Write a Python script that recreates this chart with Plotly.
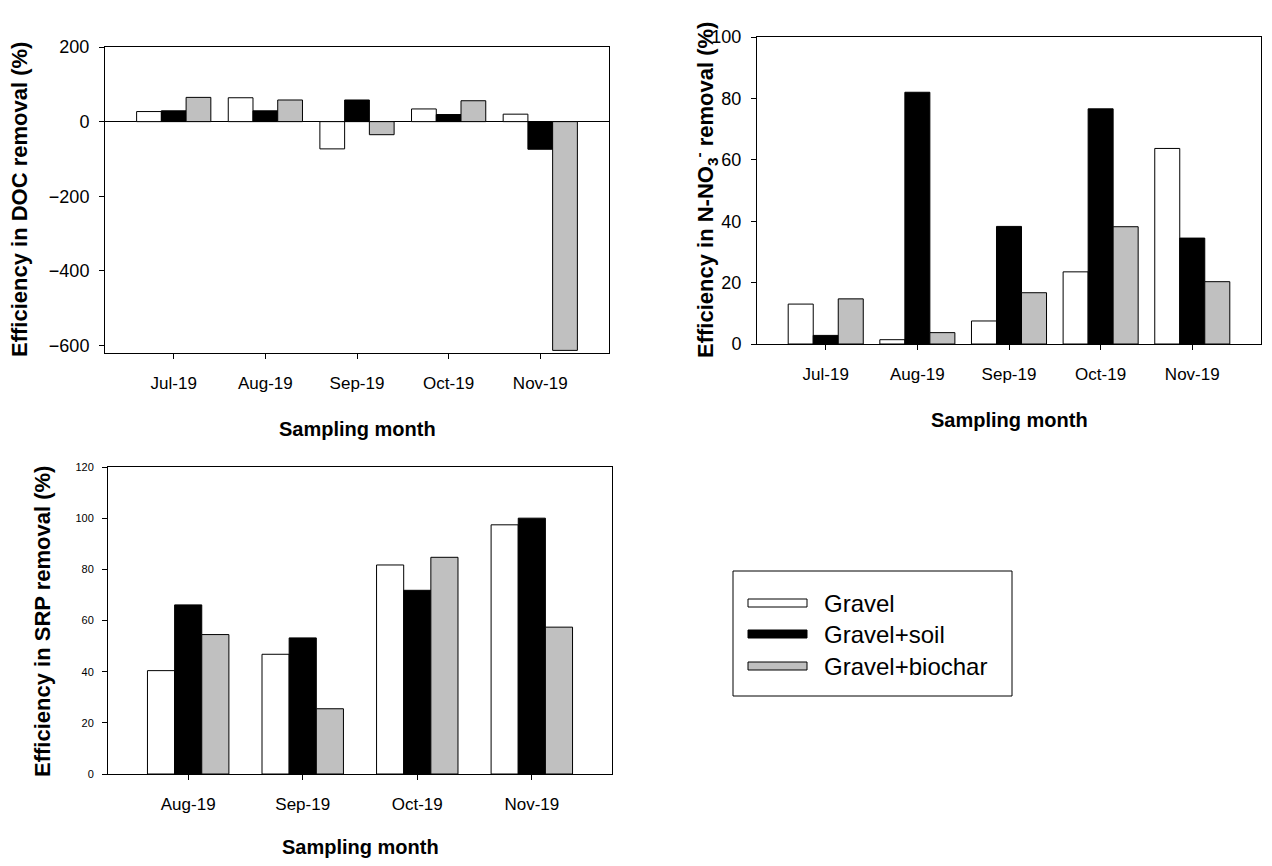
import plotly.graph_objects as go

months_top = ["Jul-19", "Aug-19", "Sep-19", "Oct-19", "Nov-19"]
months_srp = ["Aug-19", "Sep-19", "Oct-19", "Nov-19"]
series_names = ["Gravel", "Gravel+soil", "Gravel+biochar"]
series_colors = ["#ffffff", "#000000", "#c0c0c0"]

doc_gravel = [27, 64, -73, 34, 20]
doc_soil = [29, 29, 58, 19, -74]
doc_biochar = [65, 58, -35, 56, -613]

no3_gravel = [13.0, 1.4, 7.5, 23.5, 63.7]
no3_soil = [2.8, 82.0, 38.3, 76.6, 34.5]
no3_biochar = [14.7, 3.7, 16.7, 38.2, 20.3]

srp_gravel = [40.4, 46.8, 81.7, 97.4]
srp_soil = [66.1, 53.2, 71.8, 100.0]
srp_biochar = [54.5, 25.5, 84.7, 57.4]

# page is offset by the default 8px body margin
OFF = 8
W, H = 1272 - 2 * OFF, 866 - 2 * OFF
FONT = "Liberation Sans, Arial, sans-serif"

def px(x):
    return (x - OFF) / W

def py(y):
    return 1 - (y - OFF) / H

fig = go.Figure()

panels = [
    ("x", "y", months_top, [doc_gravel, doc_soil, doc_biochar], 0.27),
    ("x2", "y2", months_top, [no3_gravel, no3_soil, no3_biochar], 0.273),
    ("x3", "y3", months_srp, [srp_gravel, srp_soil, srp_biochar], 0.237),
]

for xa, ya, cats, vals, w in panels:
    for i, (v, name, col) in enumerate(zip(vals, series_names, series_colors)):
        fig.add_trace(go.Bar(
            x=cats, y=v, name=name, xaxis=xa, yaxis=ya,
            marker=dict(color=col, line=dict(color="#000000", width=1)),
            width=w, offset=(i - 1.5) * w, showlegend=False,
        ))

axis_common = dict(showline=True, mirror=True, linecolor="#000000", linewidth=1,
                   showgrid=False, ticks="outside", ticklen=5, tickcolor="#000000",
                   tickwidth=1, automargin=False)

fig.update_layout(
    width=W, height=H, margin=dict(l=0, r=0, t=0, b=0),
    paper_bgcolor="white", plot_bgcolor="white",
    font=dict(family=FONT, color="#000000"),
    barmode="overlay",
    xaxis=dict(domain=[px(105), px(609)], anchor="y", type="category",
               range=[-0.75, 4.75], tickfont=dict(size=17), ticklabelstandoff=10,
               **axis_common),
    yaxis=dict(domain=[py(353), py(47)], anchor="x", range=[-620, 200],
               tickvals=[-600, -400, -200, 0, 200], tickfont=dict(size=18),
               ticklabelstandoff=6, zeroline=True, zerolinecolor="#000000",
               zerolinewidth=1, **axis_common),
    xaxis2=dict(domain=[px(757), px(1261)], anchor="y2", type="category",
                range=[-0.75, 4.75], tickfont=dict(size=17), ticklabelstandoff=10,
                **axis_common),
    yaxis2=dict(domain=[py(344), py(37)], anchor="x2", range=[0, 100],
                dtick=20, tickfont=dict(size=18), ticklabelstandoff=6,
                zeroline=False, **axis_common),
    xaxis3=dict(domain=[px(108), px(612)], anchor="y3", type="category",
                range=[-0.7, 3.7], tickfont=dict(size=17), ticklabelstandoff=10,
                **axis_common),
    yaxis3=dict(domain=[py(774), py(467)], anchor="x3", range=[0, 120],
                dtick=20, tickfont=dict(size=11), ticklabelstandoff=6,
                zeroline=False, **axis_common),
)

xt_font = dict(family=FONT, size=20, color="#000000")
yt_font = dict(family=FONT, size=22, color="#000000")
ann = []
# x-axis titles
for cx, cy in [(357, 429), (1009, 420), (360, 847)]:
    ann.append(dict(text="<b>Sampling month</b>", x=px(cx), y=py(cy), xref="paper",
                    yref="paper", showarrow=False, font=xt_font,
                    xanchor="center", yanchor="middle"))
# y-axis titles
ann.append(dict(text="<b>Efficiency in DOC removal (%)</b>", x=px(20), y=py(200), xref="paper",
                yref="paper", showarrow=False, font=yt_font, textangle=-90,
                xanchor="center", yanchor="middle"))
ann.append(dict(text="<b>Efficiency in N-NO<sub>3</sub><sup>-</sup> removal (%)</b>", x=px(705),
                y=py(190), xref="paper", yref="paper", showarrow=False, font=yt_font,
                textangle=-90, xanchor="center", yanchor="middle"))
ann.append(dict(text="<b>Efficiency in SRP removal (%)</b>", x=px(42), y=py(622), xref="paper",
                yref="paper", showarrow=False, font=yt_font, textangle=-90,
                xanchor="center", yanchor="middle"))

# legend (drawn manually)
shapes = [dict(type="rect", xref="paper", yref="paper", x0=px(733), x1=px(1012),
               y0=py(696), y1=py(571), line=dict(color="#000000", width=1),
               fillcolor="rgba(0,0,0,0)")]
rows_y = [603, 634, 666]
for name, col, ry in zip(series_names, series_colors, rows_y):
    shapes.append(dict(type="rect", xref="paper", yref="paper", x0=px(748), x1=px(807),
                       y0=py(ry + 4), y1=py(ry - 4), line=dict(color="#000000", width=1),
                       fillcolor=col))
    ann.append(dict(text=name, x=px(822), y=py(ry), xref="paper", yref="paper",
                    showarrow=False, font=dict(family=FONT, size=24, color="#000000"),
                    xanchor="left", yanchor="middle"))

fig.update_layout(annotations=ann, shapes=shapes)

fig.write_html("out.html")
